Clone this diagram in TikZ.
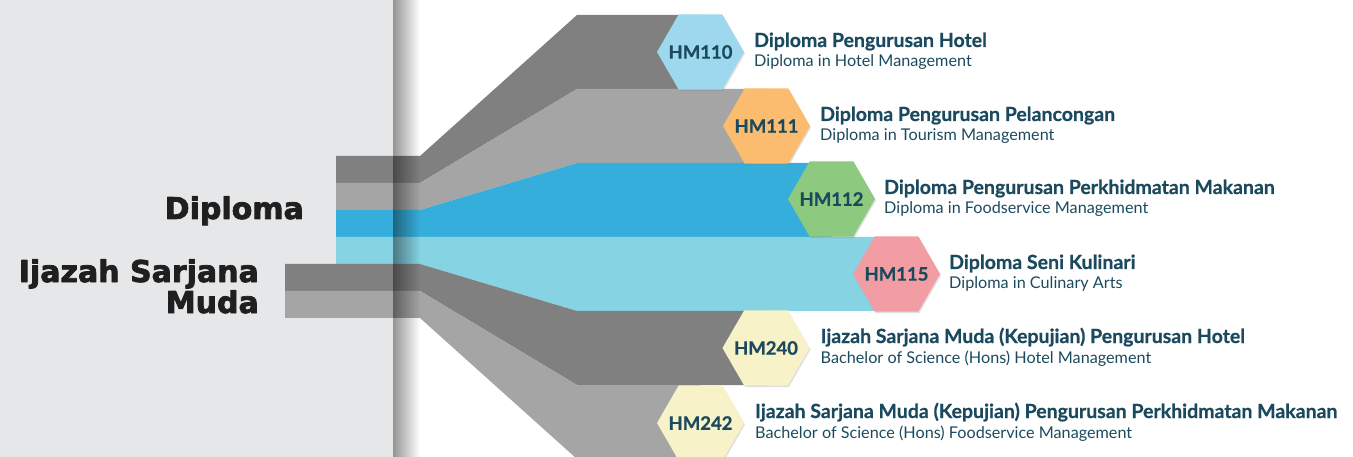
\documentclass[tikz,border=0pt]{standalone}
\usepackage{fontspec}
\setmainfont{Lato}[BoldFeatures={FakeBold=0.6}]
\newfontfamily\blockfont{DejaVu Sans}[BoldFeatures={FakeBold=2.5}]
\usetikzlibrary{shapes.geometric,fadings,shadows}

\definecolor{panel}{HTML}{E6E7E8}
\definecolor{darkband}{HTML}{7F807F}
\definecolor{lightband}{HTML}{A5A5A5}
\definecolor{blueband}{HTML}{35AEDC}
\definecolor{skyband}{HTML}{85D3E3}
\definecolor{hexsky}{HTML}{9ED8EF}
\definecolor{hexorange}{HTML}{FBBC6F}
\definecolor{hexgreen}{HTML}{8DC97E}
\definecolor{hexpink}{HTML}{F29CA3}
\definecolor{hexcream}{HTML}{F8F2C8}
\definecolor{ink}{HTML}{1B4A5E}

\tikzfading[name=stripfade, left color=transparent!0, right color=transparent!100]

\tikzset{
	hexa/.style={regular polygon, regular polygon sides=6, minimum size=87pt, inner sep=0pt, outer sep=0pt,
		drop shadow={shadow xshift=1pt, shadow yshift=-1.5pt, opacity=0.25}},
	hexlabel/.style={inner sep=0pt, text=ink, font=\bfseries\fontsize{18.5}{20}\selectfont},
	prog/.style={anchor=base west, inner sep=0pt, text=ink, font=\bfseries\fontsize{19.5}{20}\selectfont},
	progen/.style={anchor=base west, inner sep=0pt, text=ink, font=\fontsize{16.2}{18}\selectfont},
	level/.style={inner sep=0pt, text=black!88, font=\blockfont\bfseries\fontsize{30}{31}\selectfont}
}

\begin{document}
\begin{tikzpicture}[x=1pt, y=-1pt, line join=round]

	\useasboundingbox (0,0) rectangle (1353,457);
	\clip (0,0) rectangle (1353,457);

	\fill[panel] (0,0) rectangle (393,457);

	% bands: start x / end x (hexagon centre) / colour
	\foreach \i/\xs/\xe/\col in {1/336/700.5/darkband, 2/336/766.5/lightband, 3/336/831.5/blueband,
		4/336/896.5/skyband, 5/285/766/darkband, 6/285/700.5/lightband}{
		\pgfmathsetmacro\ya{156+27*(\i-1)}
		\pgfmathsetmacro\yb{156+27*\i}
		\pgfmathsetmacro\za{15+74*(\i-1)}
		\pgfmathsetmacro\zb{15+74*\i}
		\fill[\col] (\xs,\ya) -- (420,\ya) -- (577,\za) -- (\xe,\za) -- (\xe,\zb) -- (577,\zb) -- (420,\yb) -- (\xs,\yb) -- cycle;
	}

	\fill[black, opacity=0.42, path fading=stripfade] (393,0) rectangle (420,457);

	\node[level, anchor=base east] (dip) at (304,219) {Diploma};
	\node[level, anchor=base east, align=right] (ism) at (259,313) {Ijazah Sarjana\\Muda};

	\node[hexa, fill=hexsky, label={[hexlabel]center:HM110}] (h110) at (700.5,52) {};
	\node[hexa, fill=hexorange, label={[hexlabel]center:HM111}] (h111) at (766.5,126) {};
	\node[hexa, fill=hexgreen, label={[hexlabel]center:HM112}] (h112) at (831.5,199) {};
	\node[hexa, fill=hexpink, label={[hexlabel]center:HM115}] (h115) at (896.5,274) {};
	\node[hexa, fill=hexcream, label={[hexlabel]center:HM240}] (h240) at (766,348) {};
	\node[hexa, fill=hexcream, label={[hexlabel]center:HM242}] (h242) at (700.5,423) {};

	\node[prog] (t110) at ([xshift=10pt,yshift=5pt]h110.east) {Diploma Pengurusan Hotel};
	\node[progen] (s110) at ([yshift=-20pt]t110.base west) {Diploma in Hotel Management};

	\node[prog] (t111) at ([xshift=10pt,yshift=5pt]h111.east) {Diploma Pengurusan Pelancongan};
	\node[progen] (s111) at ([yshift=-20pt]t111.base west) {Diploma in Tourism Management};

	\node[prog] (t112) at ([xshift=9pt,yshift=5pt]h112.east) {Diploma Pengurusan Perkhidmatan Makanan};
	\node[progen] (s112) at ([yshift=-20pt]t112.base west) {Diploma in Foodservice Management};

	\node[prog] (t115) at ([xshift=9pt,yshift=5pt]h115.east) {Diploma Seni Kulinari};
	\node[progen] (s115) at ([yshift=-20pt]t115.base west) {Diploma in Culinary Arts};

	\node[prog] (t240) at ([xshift=11pt,yshift=5pt]h240.east) {Ijazah Sarjana Muda (Kepujian) Pengurusan Hotel};
	\node[progen] (s240) at ([yshift=-20pt]t240.base west) {Bachelor of Science (Hons) Hotel Management};

	\node[prog] (t242) at ([xshift=11pt,yshift=5pt]h242.east) {Ijazah Sarjana Muda (Kepujian) Pengurusan Perkhidmatan Makanan};
	\node[progen] (s242) at ([yshift=-20pt]t242.base west) {Bachelor of Science (Hons) Foodservice Management};

\end{tikzpicture}
\end{document}
